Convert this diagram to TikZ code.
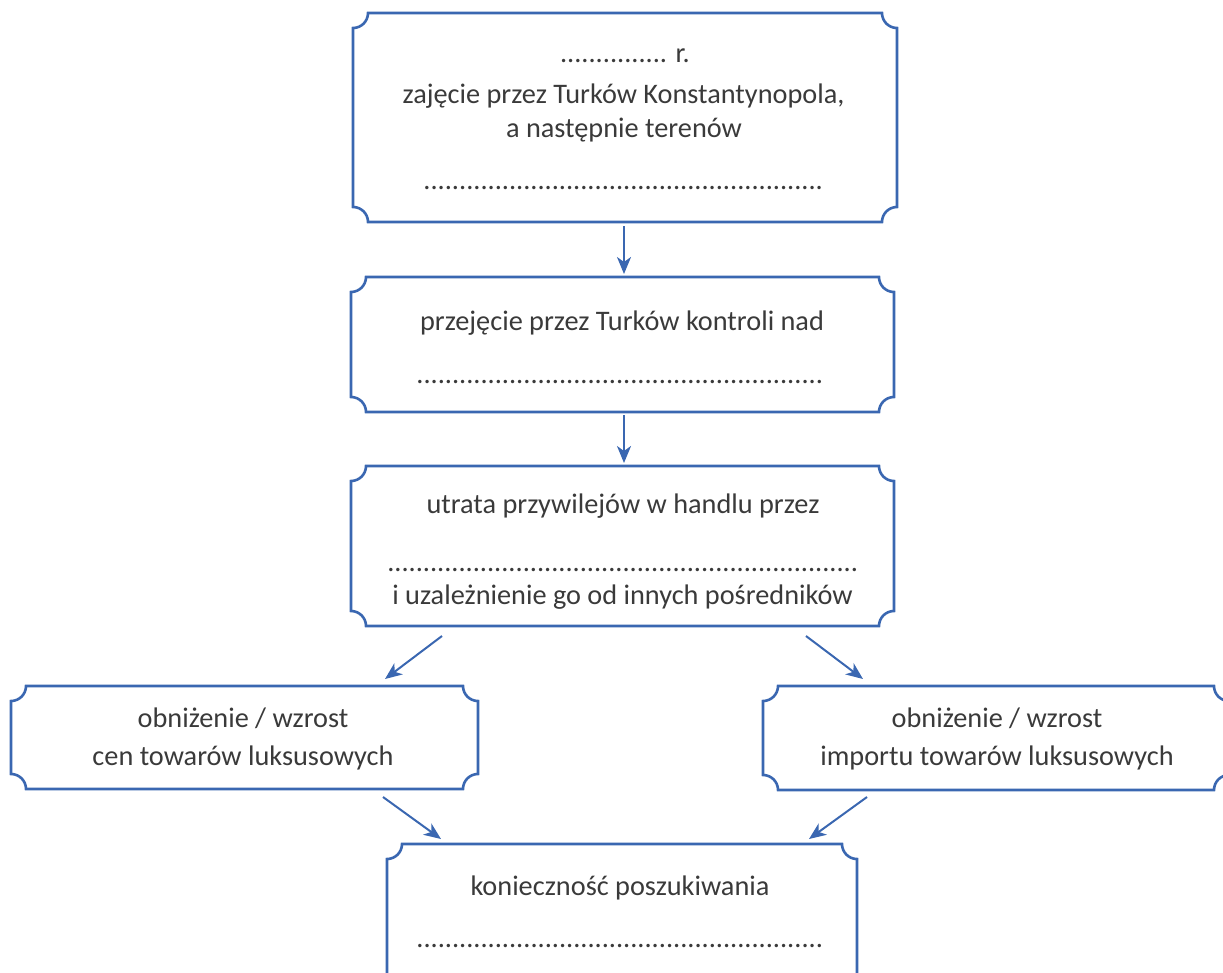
\documentclass[tikz,border=0pt]{standalone}
\usepackage{fontspec}
\setmainfont{Carlito}
\usetikzlibrary{arrows.meta,calc}
\definecolor{boxblue}{HTML}{3A67B1}
\definecolor{txt}{HTML}{3A3A3A}
\newcommand{\cornerbox}[1]{%
  \draw[boxline] ($(#1.north west)+(0,15)$) arc[start angle=90,end angle=0,radius=15]
    -- ($(#1.north east)+(-15,0)$) arc[start angle=180,end angle=90,radius=15]
    -- ($(#1.south east)+(0,-15)$) arc[start angle=270,end angle=180,radius=15]
    -- ($(#1.south west)+(15,0)$) arc[start angle=0,end angle=-90,radius=15]
    -- cycle;}
\begin{document}
\begin{tikzpicture}[x=1pt,y=-1pt,
  boxarea/.style={draw=none,inner sep=0pt,outer sep=0pt,rectangle},
  boxline/.style={draw=boxblue,line width=2.6pt,line join=miter},
  lbl/.style={anchor=base,inner sep=0pt,text=txt,font=\fontsize{28.3}{35}\selectfont},
  conn/.style={draw=boxblue,line width=2pt,-{Stealth[length=17pt,width=14pt,inset=5pt]}}]
\useasboundingbox (0,0) rectangle (1223,972);
\begin{scope}
\clip (0,0) rectangle (1223,972);
% boxes
\node[boxarea,minimum width=544pt,minimum height=209pt] (b1) at (625,117.5) {};
\node[boxarea,minimum width=543pt,minimum height=135pt] (b2) at (622.5,344.5) {};
\node[boxarea,minimum width=543pt,minimum height=160pt] (b3) at (622.5,546) {};
\node[boxarea,minimum width=467pt,minimum height=103pt] (b4) at (244.5,737.5) {};
\node[boxarea,minimum width=466pt,minimum height=104pt] (b5) at (996,738) {};
\node[boxarea,minimum width=470pt,minimum height=146pt] (b6) at (622,917) {};
\cornerbox{b1}
\cornerbox{b2}
\cornerbox{b3}
\cornerbox{b4}
\cornerbox{b5}
\cornerbox{b6}
\end{scope}
% texts
\node[lbl] (t1a) at (625,62) {............... r.};
\node[lbl] (t1b) at (623.5,103) {zajęcie przez Turków Konstantynopola,};
\node[lbl] (t1c) at (624,137) {a następnie terenów};
\node[lbl] (t1d) at (623.5,189) {........................................................};
\node[lbl] (t2a) at (622,330) {przejęcie przez Turków kontroli nad};
\node[lbl] (t2b) at (620,383) {.........................................................};
\node[lbl] (t3a) at (623,513) {utrata przywilejów w handlu przez};
\node[lbl] (t3b) at (623,571) {..................................................................};
\node[lbl] (t3c) at (622.5,604) {i uzależnienie go od innych pośredników};
\node[lbl] (t4a) at (243,727) {obniżenie / wzrost};
\node[lbl] (t4b) at (243,765) {cen towarów luksusowych};
\node[lbl] (t5a) at (997,727) {obniżenie / wzrost};
\node[lbl] (t5b) at (997,765) {importu towarów luksusowych};
\node[lbl] (t6a) at (620,895) {konieczność poszukiwania};
\node[lbl] (t6b) at (620,947) {.........................................................};
% connector end points
\coordinate (a1s) at (624,226);
\coordinate (a1e) at (624,274);
\coordinate (a2s) at (624,415);
\coordinate (a2e) at (624,463);
\coordinate (a3s) at (442,636);
\coordinate (a3e) at (385,679);
\coordinate (a4s) at (806,636);
\coordinate (a4e) at (863,679);
\coordinate (a5s) at (383,797);
\coordinate (a5e) at (441,839);
\coordinate (a6s) at (867,797);
\coordinate (a6e) at (809,839);
\draw[conn] (a1s) -- (a1e);
\draw[conn] (a2s) -- (a2e);
\draw[conn] (a3s) -- (a3e);
\draw[conn] (a4s) -- (a4e);
\draw[conn] (a5s) -- (a5e);
\draw[conn] (a6s) -- (a6e);
\end{tikzpicture}
\end{document}
